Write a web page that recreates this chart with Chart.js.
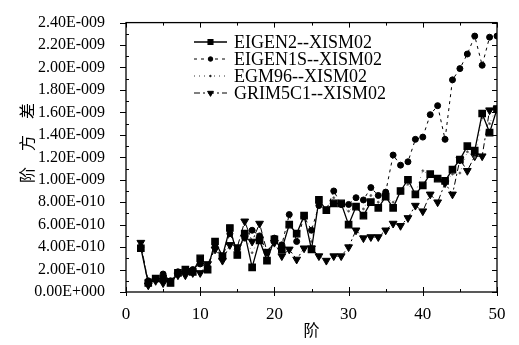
<!DOCTYPE html>
<html>
<head>
<meta charset="utf-8">
<script src="https://cdn.jsdelivr.net/npm/chart.js@4.4.0/dist/chart.umd.min.js"></script>
<style>
    html, body { margin: 0; background: #fff; }
    #wrap { width: 519px; height: 345px; }
</style>
</head>
<body>
<div id="wrap"><canvas id="chart"></canvas></div>
<script>
// degree variances, values in units of 1E-9
const UNIT = 1e-9
const degrees = [2, 3, 4, 5, 6, 7, 8, 9, 10, 11, 12, 13, 14, 15, 16, 17, 18, 19, 20, 21, 22, 23, 24, 25,
    26, 27, 28, 29, 30, 31, 32, 33, 34, 35, 36, 37, 38, 39, 40, 41, 42, 43, 44, 45, 46, 47, 48, 49, 50]

const eigen2 = [0.39, 0.08, 0.12, 0.12, 0.08, 0.17, 0.20, 0.18, 0.30, 0.20, 0.45, 0.32, 0.57, 0.33,
    0.52, 0.22, 0.46, 0.28, 0.47, 0.38, 0.60, 0.52, 0.68, 0.38, 0.82, 0.73, 0.79, 0.79, 0.60, 0.76,
    0.68, 0.80, 0.75, 0.85, 0.75, 0.90, 1.00, 0.87, 0.95, 1.05, 1.01, 0.99, 1.09, 1.18, 1.30, 1.26,
    1.59, 1.42, 1.63]
const eigen1s = [0.40, 0.10, 0.12, 0.16, 0.10, 0.18, 0.18, 0.20, 0.25, 0.22, 0.40, 0.30, 0.52, 0.38,
    0.48, 0.55, 0.50, 0.35, 0.48, 0.42, 0.69, 0.45, 0.67, 0.55, 0.77, 0.73, 0.90, 0.78, 0.78, 0.84,
    0.82, 0.93, 0.86, 0.89, 1.22, 1.13, 1.16, 1.36, 1.38, 1.58, 1.66, 1.36, 1.89, 1.99, 2.12, 2.28,
    2.02, 2.27, 2.28]
const egm96 = [0.40, 0.09, 0.13, 0.14, 0.09, 0.17, 0.19, 0.19, 0.27, 0.22, 0.42, 0.30, 0.55, 0.36,
    0.50, 0.35, 0.48, 0.32, 0.46, 0.40, 0.62, 0.50, 0.66, 0.45, 0.80, 0.74, 0.84, 0.76, 0.72, 0.78,
    0.74, 0.86, 0.80, 0.84, 0.80, 0.88, 0.96, 0.88, 1.08, 1.04, 1.00, 0.98, 1.05, 1.06, 1.25, 1.20,
    1.55, 1.50, 1.65]
const grim5c1 = [0.44, 0.06, 0.10, 0.08, 0.10, 0.15, 0.15, 0.17, 0.17, 0.25, 0.38, 0.28, 0.42, 0.40,
    0.63, 0.45, 0.61, 0.36, 0.44, 0.32, 0.38, 0.29, 0.39, 0.39, 0.32, 0.28, 0.32, 0.32, 0.40, 0.55,
    0.48, 0.49, 0.49, 0.55, 0.61, 0.59, 0.66, 0.77, 0.72, 0.87, 0.80, 0.97, 0.87, 1.18, 1.08, 1.21,
    1.21, 1.62, 1.63]

const seriesNames = ['EIGEN2--XISM02', 'EIGEN1S--XISM02', 'EGM96--XISM02', 'GRIM5C1--XISM02']
const xTitle = '阶'
const yTitle = '阶　方　差'

const serif = "'Liberation Serif', 'Times New Roman', serif"
const cjk = "'Noto Sans CJK SC', sans-serif"

const toPoints = function (vals) {
    return degrees.map((d, i) => ({x: d, y: vals[i]}))
}

const sci = function (v) {
    const x = v * UNIT
    if (Math.abs(x) < 1e-20) return '0.00E+000'
    let e = Math.floor(Math.log10(Math.abs(x)) + 1e-9)
    let m = x / Math.pow(10, e)
    if (m >= 9.995) { m /= 10; e += 1 }
    return m.toFixed(2) + 'E' + (e < 0 ? '-' : '+') + String(Math.abs(e)).padStart(3, '0')
}

// frame, minor ticks, axis titles and the legend
const decor = {
    id: 'decor',
    afterDatasetsDraw(chart) {
        const ctx = chart.ctx
        const {left, right, top, bottom} = chart.chartArea
        const xs = chart.scales.x, ys = chart.scales.y
        ctx.save()
        ctx.strokeStyle = '#000'
        ctx.lineWidth = 1.3
        ctx.strokeRect(left, top, right - left, bottom - top)
        ctx.lineWidth = 1
        ctx.beginPath()
        for (let v = 0; v <= 50; v += 5) {
            const px = Math.round(xs.getPixelForValue(v)) + 0.5
            const major = v % 10 === 0
            const len = major ? 5 : 3
            ctx.moveTo(px, bottom + (major ? 4 : 0)); ctx.lineTo(px, bottom - len)
            ctx.moveTo(px, top); ctx.lineTo(px, top + len)
        }
        for (let k = 0; k <= 24; k++) {
            const py = Math.round(ys.getPixelForValue(k / 10)) + 0.5
            const major = k % 2 === 0
            const len = major ? 5 : 3
            ctx.moveTo(left - (major ? 6 : 0), py); ctx.lineTo(left + (major ? 0 : len), py)
            ctx.moveTo(right, py); ctx.lineTo(right - len, py)
        }
        ctx.stroke()

        // axis titles
        ctx.fillStyle = '#000'
        ctx.font = '16px ' + cjk
        ctx.textAlign = 'center'
        ctx.textBaseline = 'middle'
        ctx.fillText(xTitle, (left + right) / 2, 330)
        ctx.save()
        ctx.translate(27, 143)
        ctx.rotate(-Math.PI / 2)
        ctx.font = '16px ' + cjk
        ctx.fillText(yTitle, 0, 0)
        ctx.restore()

        // legend
        ctx.font = '18px ' + serif
        ctx.textAlign = 'left'
        chart.data.datasets.forEach((ds, i) => {
            const y = 42 + i * 17
            ctx.strokeStyle = '#000'
            ctx.lineWidth = ds.borderWidth
            ctx.setLineDash(ds.borderDash || [])
            ctx.beginPath()
            ctx.moveTo(194, y); ctx.lineTo(227, y)
            ctx.stroke()
            ctx.setLineDash([])
            ctx.fillStyle = '#000'
            Chart.helpers.drawPoint(ctx, {
                pointStyle: ds.pointStyle,
                rotation: ds.pointRotation || 0,
                radius: ds.pointRadius * 0.75,
                borderWidth: 1
            }, 210.5, y)
            ctx.fillStyle = '#000'
            ctx.fillText(seriesNames[i], 234, y + 1)
        })
        ctx.restore()
    }
}

const ctx = document.getElementById('chart').getContext('2d')
const chart = new Chart(ctx, {
    type: 'line',
    data: {
        datasets: [{
            label: seriesNames[0],
            data: toPoints(eigen2),
            borderColor: '#000',
            backgroundColor: '#000',
            borderWidth: 1.3,
            pointStyle: 'rect',
            pointRadius: 4.5
        }, {
            label: seriesNames[1],
            data: toPoints(eigen1s),
            borderColor: '#000',
            backgroundColor: '#000',
            borderWidth: 1,
            borderDash: [3, 4],
            pointStyle: 'circle',
            pointRadius: 3
        }, {
            label: seriesNames[2],
            data: toPoints(egm96),
            borderColor: '#666',
            backgroundColor: '#444',
            borderWidth: 0.8,
            borderDash: [1, 4],
            pointStyle: 'circle',
            pointRadius: 1
        }, {
            label: seriesNames[3],
            data: toPoints(grim5c1),
            borderColor: '#000',
            backgroundColor: '#000',
            borderWidth: 1,
            borderDash: [6, 3, 2, 3],
            pointStyle: 'triangle',
            pointRotation: 180,
            pointRadius: 4.5
        }]
    },
    options: {
        responsive: true,
        maintainAspectRatio: false,
        animation: false,
        layout: {
            padding: {left: 0, right: 22, top: 16, bottom: 0}
        },
        elements: {
            line: {tension: 0},
            point: {borderWidth: 0, hoverRadius: 0}
        },
        plugins: {
            legend: {display: false},
            tooltip: {enabled: false}
        },
        scales: {
            x: {
                type: 'linear',
                min: 0,
                max: 50,
                grid: {display: false},
                border: {display: false},
                ticks: {
                    stepSize: 10,
                    color: '#000',
                    padding: 4,
                    maxRotation: 0,
                    font: {family: serif, size: 17}
                },
                afterFit: function (s) { s.height = 53 }
            },
            y: {
                min: 0,
                max: 2.4,
                grid: {display: false},
                border: {display: false},
                ticks: {
                    stepSize: 0.2,
                    color: '#000',
                    padding: 13,
                    font: {family: serif, size: 16},
                    callback: function (v) { return sci(v) }
                },
                afterFit: function (s) { s.width = 126 }
            }
        }
    },
    plugins: [decor]
})
</script>
</body>
</html>
